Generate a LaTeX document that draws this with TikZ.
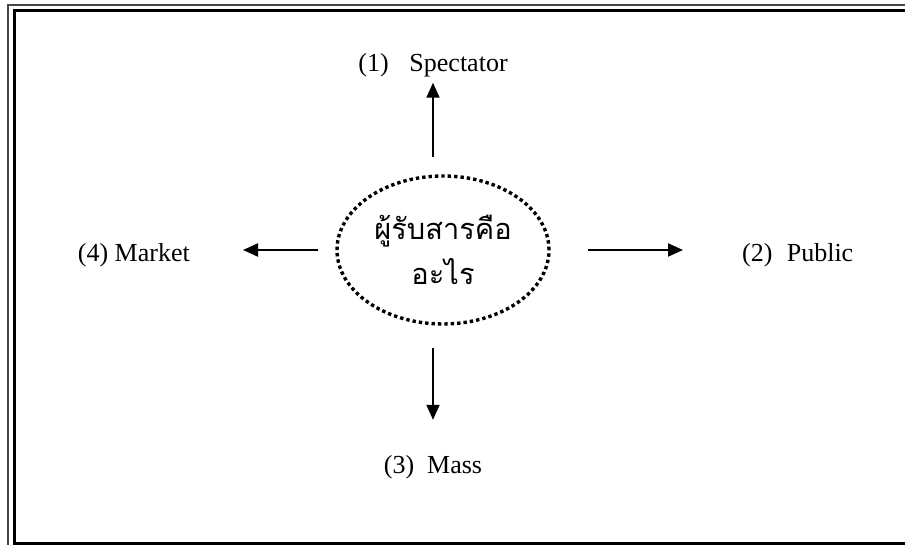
\documentclass[tikz,border=0pt]{standalone}
\usepackage{fontspec}
\setmainfont{Liberation Serif}
\newfontfamily\thaifont[Script=Thai]{Loma}
\usetikzlibrary{arrows.meta,positioning,shapes.geometric}
\definecolor{framegray}{RGB}{70,70,70}
\tikzset{
 termlabel/.style={
 inner sep=0pt,
 anchor=base,
 font=\fontsize{26}{30}\selectfont
 },
 askbubble/.style={
 ellipse,
 draw,
 line width=3.4pt,
 dash pattern=on 3.4pt off 3pt,
 minimum width=212pt,
 minimum height=148pt,
 inner sep=0pt,
 align=center,
 font=\thaifont\fontsize{29}{45}\selectfont
 },
 flowarrow/.style={-{Triangle[length=15pt,width=13pt]}, line width=2pt}
}

\begin{document}
\begin{tikzpicture}[x=1pt,y=-1pt]
	\useasboundingbox (0,0) rectangle (905,545);
	\clip (0,0) rectangle (905,545);
	% double frame
	\draw[framegray, line width=2pt] (8,5) rectangle (915,555);
	\draw[line width=3pt] (14,11) rectangle (911,543);

	\node[askbubble] (ask) at (443,250) {ผู้รับสารคือ\\อะไร};

	\node[termlabel] (spec) at (433,72) {(1)\hspace{0.8em}Spectator};
	\node[termlabel, anchor=base east] (market) at (190,262) {(4) Market};
	\node[termlabel, anchor=base west] (public) at (742,262) {(2)\hspace{0.55em}Public};
	\node[termlabel] (mass) at (433,473) {(3)\ \ Mass};

	\draw[flowarrow, shorten <=17pt, shorten >=5pt] (ask.north -| spec.south) -- (spec.south);
	\draw[flowarrow, shorten <=17pt, shorten >=53pt] (ask.west) -- (ask.west -| market.east);
	\draw[flowarrow, shorten <=37pt, shorten >=59pt] (ask.east) -- (ask.east -| public.west);
	\draw[flowarrow, shorten <=22pt, shorten >=35pt] (ask.south -| mass.north) -- (mass.north);
\end{tikzpicture}
\end{document}
